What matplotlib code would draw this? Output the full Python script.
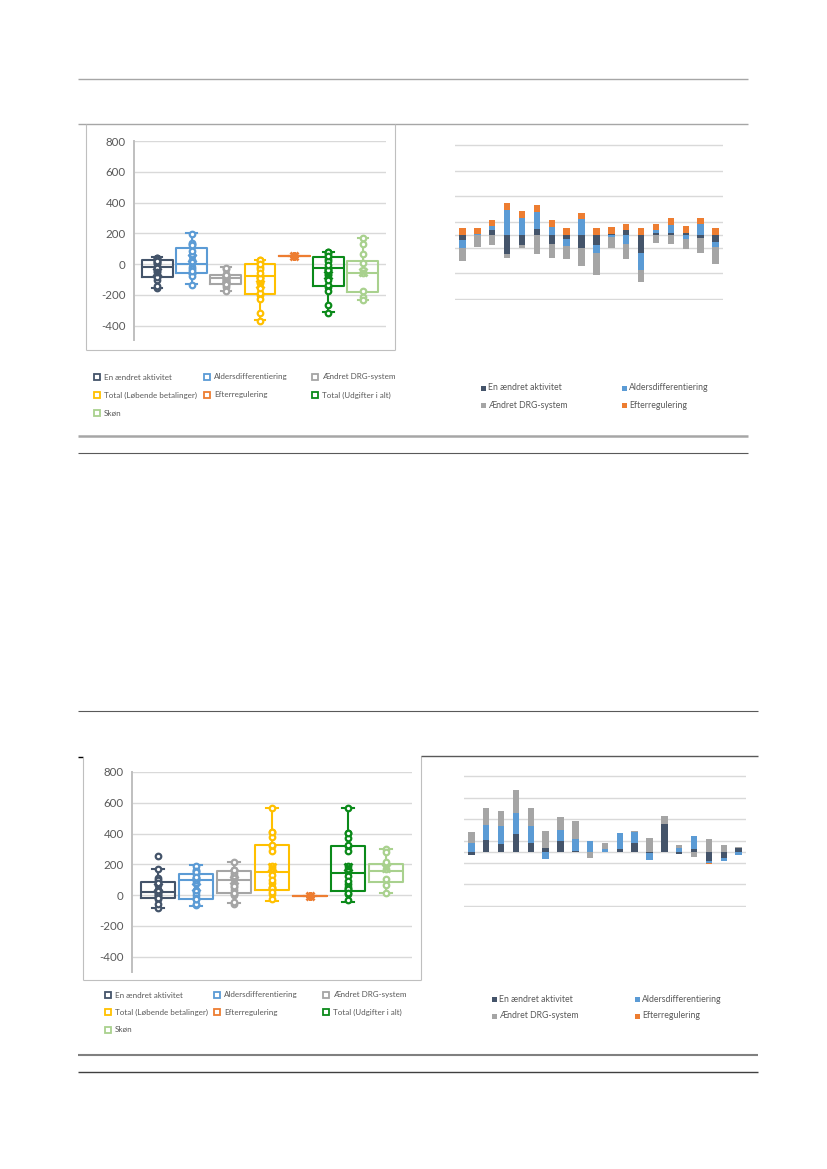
import numpy as np
import matplotlib
matplotlib.use("Agg")
import matplotlib.pyplot as plt

plt.rcParams['font.family'] = ['Lato', 'DejaVu Sans']

W, H = 827, 1169

# ---------------- data ----------------
box_labels = ["En ændret aktivitet", "Aldersdifferentiering", "Ændret DRG-system",
              "Total (Løbende betalinger)", "Efterregulering", "Total (Udgifter i alt)", "Skøn"]
box_colors = ["#44546A", "#5B9BD5", "#A5A5A5", "#FFC000", "#ED7D31", "#0B8A1A", "#A9D18E"]
bar_labels = ["En ændret aktivitet", "Aldersdifferentiering", "Ændret DRG-system", "Efterregulering"]
bar_colors = ["#44546A", "#5B9BD5", "#A5A5A5", "#ED7D31"]

# top section: 18 units
top_aktivitet = [-44, 0, 39, -153, -81, 42, -68, -31, -104, -83, 10, 36, -140, 16, 18, 18, -26, -52]
top_alders = [-57, 5, 26, 195, 130, 135, 62, -55, 122, -55, -20, -75, -133, 18, 60, -34, 83, -44]
top_drg = [-101, -91, -83, -29, -23, -151, -114, -104, -135, -177, -83, -117, -94, -65, -75, -73, -117, -130]
top_efterreg = [52] * 18
top_skon = [169, 134, 65, 9, -39, -56, -173, -212, -234]

top_whishi = [48, 204, -17, 30, 52, 80, 169]
top_q3 = [26, 102, -72, -2, 52, 48, 22]
top_med = [-17, 4, -93, -78, 52, -24, -56]
top_q1 = [-82, -56, -126, -195, 52, -141, -182]
top_whislo = [-154, -132, -175, -364, 52, -310, -234]
top_mean = [-50, 43, -100, -126, 52, -72, -50]

# bottom section: 19 units
bot_aktivitet = [-28, 108, 68, 169, 86, 31, 99, 12, 0, 0, 22, 77, -12, 253, -18, 22, -83, -59, 31]
bot_alders = [80, 139, 166, 188, 157, -62, 99, 111, 99, 22, 151, 108, -59, 0, 31, 120, -22, -25, -28]
bot_drg = [105, 160, 142, 212, 166, 160, 123, 166, -55, 55, 0, 6, 126, 74, 31, -46, 114, 59, 15]
bot_efterreg = [-4] * 19
bot_skon = [297, 282, 217, 167, 102, 65, 15]

bot_whishi = [169, 193, 212, 568, -4, 563, 297]
bot_q3 = [82, 139, 158, 327, -4, 321, 201]
bot_med = [22, 95, 100, 150, -4, 145, 154]
bot_q1 = [-22, -26, 15, 33, -4, 28, 87]
bot_whislo = [-87, -72, -54, -39, -4, -43, 15]
bot_mean = [50, 50, 97, 184, -4, 180, 173]

box_ticks = [-400, -200, 0, 200, 400, 600, 800]
bar_grid = [-500, -300, -100, 100, 300, 500, 700]

# ---------------- figure ----------------
fig = plt.figure(figsize=(W / 100, H / 100), dpi=100)
bg = fig.add_axes([0, 0, 1, 1])
bg.set_xlim(0, W)
bg.set_ylim(H, 0)
bg.axis('off')


def px_axes(x0, y0, x1, y1):
    ax = fig.add_axes([x0 / W, 1 - y1 / H, (x1 - x0) / W, (y1 - y0) / H])
    ax.patch.set_alpha(0)
    return ax


def hline(y, x0, x1, color, lw):
    bg.plot([x0, x1], [y, y], color=color, lw=lw, solid_capstyle='butt')


def vline(x, y0, y1, color, lw):
    bg.plot([x, x], [y0, y1], color=color, lw=lw, solid_capstyle='butt')


def box_panel(ax, whislo, q1, med, q3, whishi, mean, points, ylim):
    for i in range(len(box_labels)):
        c = box_colors[i]
        stats = [dict(whislo=whislo[i], q1=q1[i], med=med[i], q3=q3[i],
                      whishi=whishi[i], mean=mean[i], fliers=[])]
        ax.bxp(stats, positions=[i], widths=0.9, capwidths=0.3, showmeans=True,
               showfliers=False, manage_ticks=False,
               boxprops=dict(color=c, lw=1.5),
               whiskerprops=dict(color=c, lw=1.5),
               capprops=dict(color=c, lw=1.5),
               medianprops=dict(color=c, lw=1.5),
               meanprops=dict(marker='x', markeredgecolor=c, markersize=5.5, mew=2.0, zorder=7))
        p = np.asarray(points[i], dtype=float)
        ax.plot(np.full(len(p), i), p, 'o', ms=4.0, mfc='white', mec=c, mew=1.6, zorder=5)
    ax.set_xlim(-0.68, len(box_labels) - 1 + 0.68)
    ax.set_ylim(*ylim)
    ax.set_yticks(box_ticks)
    ax.set_yticklabels([str(t) for t in box_ticks])
    ax.set_xticks([])
    ax.yaxis.grid(True, color='#D9D9D9', lw=1.0)
    ax.set_axisbelow(True)
    for s in ['top', 'right', 'bottom']:
        ax.spines[s].set_visible(False)
    ax.spines['left'].set_color('#BFBFBF')
    ax.spines['left'].set_linewidth(1.4)
    ax.tick_params(axis='y', length=0, pad=6, labelsize=8.3, labelcolor='#595959')


def bar_panel(ax, comps, n):
    x = np.arange(n)
    pos = np.zeros(n)
    neg = np.zeros(n)
    for vals, c in zip(comps, bar_colors):
        v = np.asarray(vals, dtype=float)
        bottom = np.where(v >= 0, pos, neg)
        ax.bar(x, v, bottom=bottom, width=0.43, color=c, zorder=3)
        pos += np.clip(v, 0, None)
        neg += np.clip(v, None, 0)
    ax.set_xlim(-0.5, n - 0.5)
    ax.set_ylim(-510, 710)
    ax.set_yticks(bar_grid)
    ax.yaxis.grid(True, color='#D9D9D9', lw=1.0)
    ax.axhline(0, color='#D9D9D9', lw=1.0, zorder=2)
    ax.set_axisbelow(True)
    ax.set_xticks([])
    ax.tick_params(axis='y', length=0, labelleft=False)
    for s in ax.spines.values():
        s.set_visible(False)


def box_legend(x_cols, y_rows, fs):
    for i, (lab, c) in enumerate(zip(box_labels, box_colors)):
        r, k = divmod(i, 3)
        bg.plot([x_cols[k]], [y_rows[r]], marker='s', ms=5, mfc='white', mec=c, mew=1.3)
        bg.text(x_cols[k] + 7, y_rows[r], lab, fontsize=fs, color='#595959', va='center', ha='left')


def bar_legend(x_cols, y_rows, fs):
    for i, (lab, c) in enumerate(zip(bar_labels, bar_colors)):
        r, k = divmod(i, 2)
        bg.plot([x_cols[k]], [y_rows[r]], marker='s', ms=3.6, mfc=c, mec=c, mew=0)
        bg.text(x_cols[k] + 5, y_rows[r], lab, fontsize=fs, color='#595959', va='center', ha='left')


# ---------- top section ----------
top_total_lob = np.sum([top_aktivitet, top_alders, top_drg], axis=0)
top_total_alt = top_total_lob + np.asarray(top_efterreg)
top_points = [top_aktivitet, top_alders, top_drg, top_total_lob, top_efterreg, top_total_alt, top_skon]

ax1 = px_axes(134, 141, 386, 340)
box_panel(ax1, top_whislo, top_q1, top_med, top_q3, top_whishi, top_mean, top_points, (-493, 800))

sc = 154 / 1200.0
ax2 = px_axes(455, 145 - 10 * sc, 723, 299 + 10 * sc)
bar_panel(ax2, [top_aktivitet, top_alders, top_drg, top_efterreg], len(top_aktivitet))

box_legend([97, 207, 315], [377, 395, 413], 5.8)
bar_legend([483, 624], [388, 405], 6.3)

# ---------- bottom section ----------
bot_total_lob = np.sum([bot_aktivitet, bot_alders, bot_drg], axis=0)
bot_total_alt = bot_total_lob + np.asarray(bot_efterreg)
bot_points = [bot_aktivitet, bot_alders, bot_drg, bot_total_lob, bot_efterreg, bot_total_alt, bot_skon]

ax3 = px_axes(132, 772, 412, 972)
box_panel(ax3, bot_whislo, bot_q1, bot_med, bot_q3, bot_whishi, bot_mean, bot_points, (-500, 800))

sc2 = 130 / 1200.0
ax4 = px_axes(464, 776 - 10 * sc2, 746, 906 + 10 * sc2)
bar_panel(ax4, [bot_aktivitet, bot_alders, bot_drg, bot_efterreg], len(bot_aktivitet))

box_legend([108, 217, 326], [995, 1012, 1030], 5.8)
bar_legend([494, 637], [999, 1016], 6.3)

# ---------- page rules / frames ----------
hline(79, 78, 748, '#A6A6A6', 1.0)
hline(124, 78, 748, '#A6A6A6', 1.0)
vline(86, 124, 350, '#BFBFBF', 0.8)
vline(395, 124, 350, '#BFBFBF', 0.8)
hline(350, 86, 395, '#BFBFBF', 0.8)
hline(436, 78, 748, '#A6A6A6', 1.8)
hline(453, 78, 748, '#595959', 0.8)

hline(711, 78, 758, '#595959', 0.8)
hline(757, 78, 83, '#000000', 1.0)
vline(83, 757, 980, '#BFBFBF', 0.8)
hline(980, 83, 421, '#BFBFBF', 0.8)
vline(421, 756, 980, '#BFBFBF', 0.8)
hline(756, 421, 758, '#595959', 1.0)
hline(1055, 78, 758, '#808080', 1.5)
hline(1072, 78, 758, '#404040', 1.0)

fig.savefig('out.png', dpi=100)
